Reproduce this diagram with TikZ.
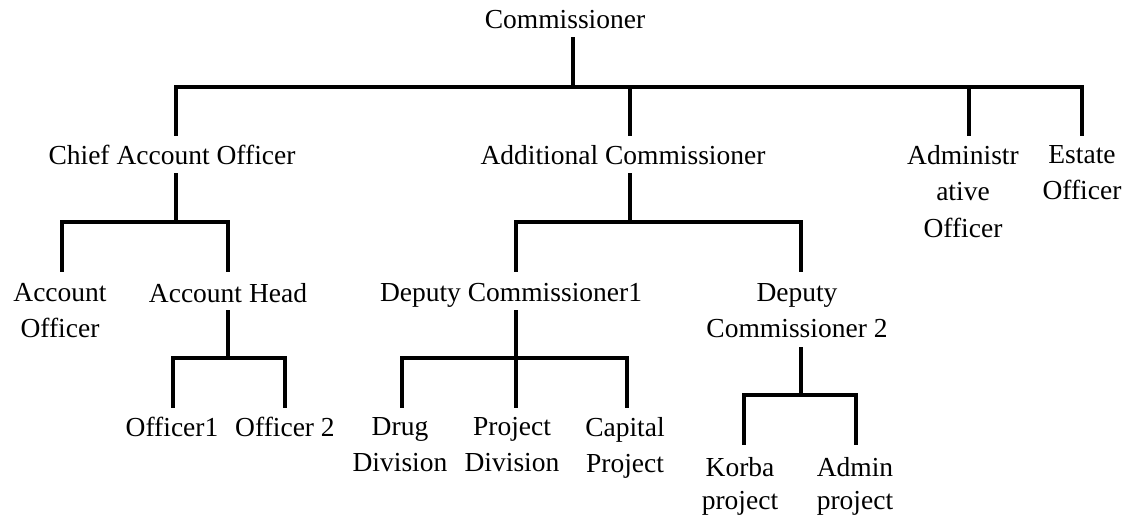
\documentclass[tikz,border=0pt]{standalone}
\usepackage{fontspec}
\setmainfont{Liberation Serif}
\usetikzlibrary{calc}
\begin{document}
\begin{tikzpicture}[x=1pt,y=-1pt,
  lbl/.style={anchor=north,inner sep=0pt,align=center,font=\fontsize{27.5}{36.5}\selectfont},
  lbltight/.style={lbl,font=\fontsize{27.5}{33}\selectfont},
  conn/.style={line width=3.1pt,line join=miter}]
\useasboundingbox[fill=white] (0,0) rectangle (1133,520);
% nodes
\node[lbl] (comm) at (565,10) {Commissioner};
\node[lbl] (cao) at (172,145) {Chief Account Officer};
\node[lbl] (ac) at (623,145) {Additional Commissioner};
\node[lbl] (adm) at (963,145) {Administr\\ative\\Officer};
\node[lbl] (est) at (1082,145) {Estate\\Officer};
\node[lbl] (ao) at (60,283) {Account\\Officer};
\node[lbl] (ah) at (228,283) {Account Head};
\node[lbl] (dc1) at (511,283) {Deputy Commissioner1};
\node[lbl] (dc2) at (797,283) {Deputy\\Commissioner 2};
\node[lbl] (o1) at (172,417) {Officer1};
\node[lbl] (o2) at (285,417) {Officer 2};
\node[lbl] (drug) at (400,417) {Drug\\Division};
\node[lbl] (pd) at (512,417) {Project\\Division};
\node[lbl] (capp) at (625,417) {Capital\\Project};
\node[lbltight] (korba) at (740,457) {Korba\\project};
\node[lbltight] (admp) at (855,457) {Admin\\project};
% connectors: Commissioner
\draw[conn] ($(comm.north)+(8,27)$) -- ($(comm.north)+(8,77)$) -| ($(cao.north)+(4,-9)$);
\draw[conn] ($(comm.north)+(8,77)$) -| ($(ac.north)+(7,-9)$);
\draw[conn] ($(comm.north)+(8,77)$) -| ($(adm.north)+(6,-9)$);
\draw[conn] ($(comm.north)+(8,77)$) -| ($(est.north)+(0,-9)$);
% Chief Account Officer
\draw[conn] ($(cao.north)+(4,28)$) -- ($(cao.north)+(4,77)$) -| ($(ao.north)+(2,-11)$);
\draw[conn] ($(cao.north)+(4,77)$) -| ($(ah.north)+(0,-11)$);
% Additional Commissioner
\draw[conn] ($(ac.north)+(7,28)$) -- ($(ac.north)+(7,77)$) -| ($(dc1.north)+(5,-11)$);
\draw[conn] ($(ac.north)+(7,77)$) -| ($(dc2.north)+(4,-11)$);
% Account Head
\draw[conn] ($(ah.north)+(0,27)$) -- ($(ah.north)+(0,75)$) -| ($(o1.north)+(1,-9)$);
\draw[conn] ($(ah.north)+(0,75)$) -| ($(o2.north)+(0,-9)$);
% Deputy Commissioner1
\draw[conn] ($(dc1.north)+(5,27)$) -- ($(dc1.north)+(5,75)$) -| ($(drug.north)+(2,-9)$);
\draw[conn] ($(dc1.north)+(5,75)$) -| ($(pd.north)+(4,-9)$);
\draw[conn] ($(dc1.north)+(5,75)$) -| ($(capp.north)+(2,-9)$);
% Deputy Commissioner 2
\draw[conn] ($(dc2.north)+(4,64)$) -- ($(dc2.north)+(4,112)$) -| ($(korba.north)+(4,-12)$);
\draw[conn] ($(dc2.north)+(4,112)$) -| ($(admp.north)+(1,-12)$);
\end{tikzpicture}
\end{document}
